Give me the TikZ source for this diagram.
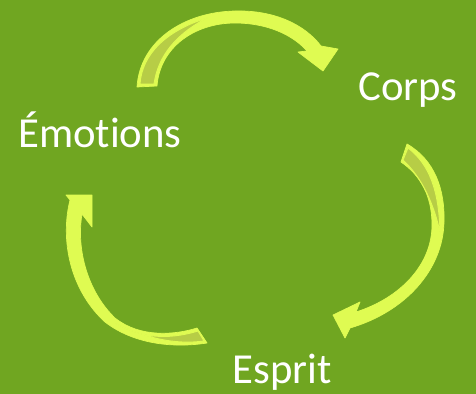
\documentclass[tikz,border=0pt]{standalone}
\usepackage{fontspec}
\setmainfont{Carlito}[Ligatures={NoCommon}]
\usepackage{tikz}
\usetikzlibrary{positioning}

\definecolor{leaf}{RGB}{112,166,33}
\definecolor{lime}{RGB}{223,251,82}
\definecolor{olive}{RGB}{183,205,70}

\tikzset{
  word/.style={
    text=white,
    inner sep=0pt,
    anchor=base,
    font=\fontsize{36.5}{44}\selectfont
  },
  band/.style={fill=lime, draw=lime, line width=0.6pt, line join=round},
  twist/.style={fill=olive, draw=lime, line width=0.8pt, line join=round}
}

\begin{document}
\begin{tikzpicture}[x=0.03cm, y=-0.03cm]
  \fill[leaf] (0,0) rectangle (476,394);
  \useasboundingbox (0,0) rectangle (476,394);

  % labels
  \node[word] (corps)  at (408,100) {Corps};
  \node[word] (esprit) at (282,383) {Esprit};
  \node[word] (emo)    at (100,147) {Émotions};

  % top arrow
  \path[band] (137,87) .. controls (140,40) and (185,12) .. (235,11)
    .. controls (275,10) and (305,25) .. (321,46)
    -- (338,49) -- (323,71) -- (298,52) -- (307,51)
    .. controls (292,34) and (266,23) .. (235,23)
    .. controls (195,23) and (160,47) .. (157,86) -- cycle;
  \path[twist] (140,84) .. controls (142,55) and (165,31) .. (207,18)
    .. controls (176,34) and (158,56) .. (154,84) -- cycle;

  % right arrow
  \path[band] (407,144) .. controls (435,160) and (445,190) .. (444,222)
    .. controls (443,270) and (405,312) .. (350,328)
    -- (345,338) -- (333,315) -- (360,302) -- (356,312)
    .. controls (400,298) and (432,265) .. (432,225)
    .. controls (432,195) and (420,175) .. (401,162) -- cycle;
  \path[twist] (408,148) .. controls (429,164) and (439,190) .. (440,232)
    .. controls (432,197) and (419,175) .. (403,160) -- cycle;

  % left arrow
  \path[band] (70,200) .. controls (60,240) and (70,290) .. (105,322)
    .. controls (135,345) and (175,348) .. (207,343)
    -- (197,328)
    .. controls (175,335) and (140,338) .. (115,318)
    .. controls (88,292) and (76,250) .. (82,214)
    -- (92,227) -- (92,195) -- (66,195) -- cycle;
  \path[twist] (198,331) .. controls (175,338) and (145,341) .. (115,323)
    .. controls (145,338) and (175,345) .. (204,341) -- cycle;
\end{tikzpicture}
\end{document}
